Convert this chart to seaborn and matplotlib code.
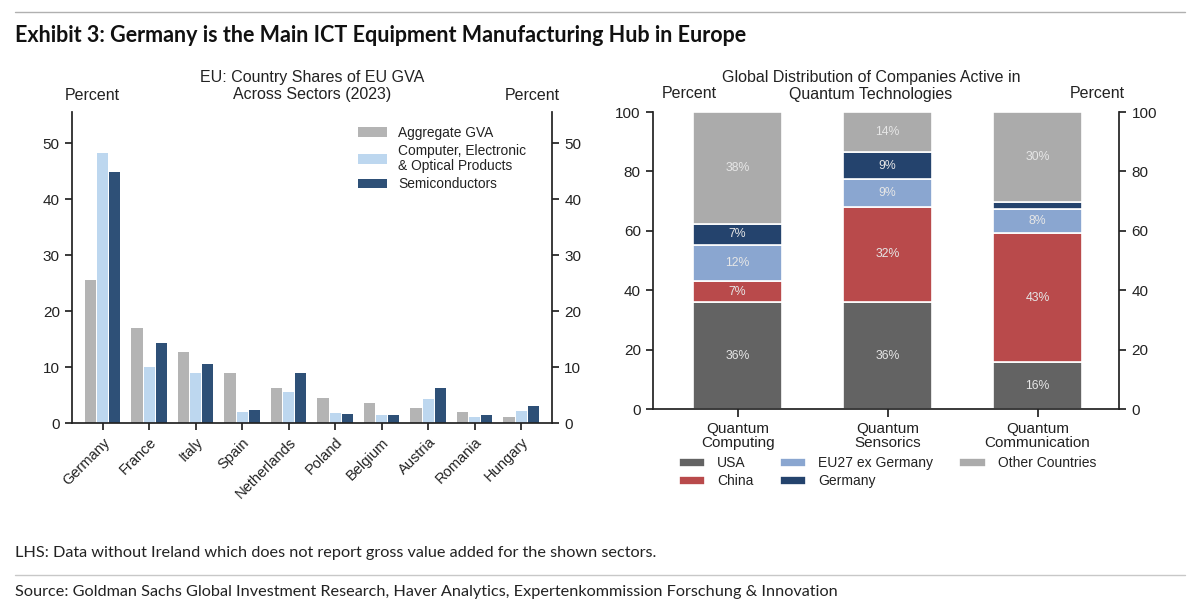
import matplotlib

matplotlib.use("Agg")

import matplotlib.pyplot as plt
from matplotlib.lines import Line2D
import numpy as np
import pandas as pd
import seaborn as sns

# left panel: country shares of EU GVA, percent
COUNTRIES = ["Germany", "France", "Italy", "Spain", "Netherlands",
             "Poland", "Belgium", "Austria", "Romania", "Hungary"]
SECTORS = ["Aggregate GVA", "Computer, Electronic\n& Optical Products", "Semiconductors"]
AGGREGATE_GVA = [25.6, 17.0, 12.8, 9.0, 6.3, 4.5, 3.6, 2.8, 2.0, 1.1]
COMPUTER_ELEC = [48.2, 10.1, 9.0, 2.0, 5.5, 1.8, 1.4, 4.4, 1.1, 2.2]
SEMICONDUCTORS = [44.8, 14.3, 10.6, 2.4, 9.0, 1.6, 1.4, 6.3, 1.5, 3.1]

# right panel: distribution of quantum companies, percent
TECHS = ["Quantum\nComputing", "Quantum\nSensorics", "Quantum\nCommunication"]
REGIONS = ["USA", "China", "EU27 ex Germany", "Germany", "Other Countries"]
USA = [36.1, 36.1, 16.0]
CHINA = [7.0, 32.1, 43.2]
EU27_EX_DE = [12.3, 9.2, 8.2]
GERMANY = [6.9, 9.1, 2.2]
OTHER = [37.7, 13.5, 30.4]

SECTOR_COLORS = ["#b4b4b4", "#bdd7ef", "#2e5077"]
REGION_COLORS = ["#636363", "#b94a4b", "#8aa6d0", "#24436d", "#ababab"]
TEXT = "#222222"

sns.set_theme(style="ticks")
plt.rcParams["font.family"] = ["Liberation Sans", "DejaVu Sans"]
plt.rcParams["axes.edgecolor"] = TEXT
plt.rcParams["xtick.color"] = TEXT
plt.rcParams["ytick.color"] = TEXT

W, H = 1200, 614
fig = plt.figure(figsize=(W / 100, H / 100), dpi=100)


def px_axes(x0, y0, x1, y1):
    return fig.add_axes([x0 / W, 1 - y1 / H, (x1 - x0) / W, (y1 - y0) / H])


# ---- left panel
gva = pd.DataFrame({"country": COUNTRIES, SECTORS[0]: AGGREGATE_GVA,
                    SECTORS[1]: COMPUTER_ELEC, SECTORS[2]: SEMICONDUCTORS})
gva_long = gva.melt(id_vars="country", var_name="sector", value_name="share")

ax1 = px_axes(72.3, 111.7, 551.7, 423.3)
sns.barplot(data=gva_long, x="country", y="share", hue="sector", hue_order=SECTORS,
            order=COUNTRIES, palette=SECTOR_COLORS, saturation=1, width=0.78,
            gap=0.06, linewidth=0, ax=ax1)
ax1.set_xlim(-0.654, 9.656)
ax1.set_ylim(0, 55.6)
ax1.set_yticks(np.arange(0, 51, 10))
ax1.set_xlabel("")
ax1.set_ylabel("")
ax1.spines["top"].set_visible(False)
ax1.tick_params(axis="y", right=True, labelright=True, labelsize=11, length=5, pad=4)
ax1.tick_params(axis="x", labelsize=10.5, length=5)
for lab in ax1.get_xticklabels():
    lab.set_rotation(45)
    lab.set_ha("right")
    lab.set_rotation_mode("anchor")
leg1 = ax1.legend(loc="upper left", bbox_to_anchor=(0.570, 0.995), frameon=False,
                  fontsize=9.9, handlelength=2.1, handleheight=0.7,
                  labelspacing=0.35, handletextpad=0.85)
for t in leg1.get_texts():
    t.set_color(TEXT)
    t.set_linespacing(1.02)

fig.text(92 / W, 1 - 95 / H, "Percent", ha="center", va="center", fontsize=11.5, color=TEXT)
fig.text(532 / W, 1 - 95 / H, "Percent", ha="center", va="center", fontsize=11.5, color=TEXT)
fig.text(312 / W, 1 - 86 / H, "EU: Country Shares of EU GVA\nAcross Sectors (2023)",
         ha="center", va="center", fontsize=11.5, color=TEXT, linespacing=1.15)

# ---- right panel
ax2 = px_axes(653.3, 112, 1119, 409.3)
stack = [USA, CHINA, EU27_EX_DE, GERMANY, OTHER]
bottom = np.zeros(len(TECHS))
for region, values, color in zip(REGIONS, stack, REGION_COLORS):
    seg = pd.DataFrame({"tech": TECHS, "share": values})
    sns.barplot(data=seg, x="tech", y="share", order=TECHS, color=color, saturation=1,
                width=0.59, bottom=bottom, edgecolor="white", linewidth=1.2,
                label=region, ax=ax2)
    for i, v in enumerate(values):
        if v >= 5:
            ax2.text(i, bottom[i] + v / 2, f"{v:.0f}%", ha="center", va="center",
                     fontsize=8.8, color="#e6e6e6")
    bottom = bottom + np.array(values)

ax2.set_xlim(-0.563, 2.543)
ax2.set_ylim(0, 100)
ax2.set_yticks(np.arange(0, 101, 20))
ax2.set_xlabel("")
ax2.set_ylabel("")
ax2.spines["top"].set_visible(False)
ax2.tick_params(axis="y", right=True, labelright=True, labelsize=11, length=5, pad=4)
ax2.tick_params(axis="x", labelsize=11, length=6)
for lab in ax2.get_xticklabels():
    lab.set_linespacing(0.95)
leg2 = ax2.legend(loc="upper left", bbox_to_anchor=(0.028, -0.115), ncol=3, frameon=False,
                  fontsize=10, handlelength=1.9, handleheight=0.6, labelspacing=0.3,
                  columnspacing=1.9, handletextpad=0.85)
for t in leg2.get_texts():
    t.set_color(TEXT)

fig.text(689 / W, 1 - 94 / H, "Percent", ha="center", va="center", fontsize=11.5, color=TEXT)
fig.text(1097 / W, 1 - 94 / H, "Percent", ha="center", va="center", fontsize=11.5, color=TEXT)
fig.text(871 / W, 1 - 86 / H, "Global Distribution of Companies Active in\nQuantum Technologies",
         ha="center", va="center", fontsize=11.5, color=TEXT, linespacing=1.15)

# ---- frame texts and rules
fig.add_artist(Line2D([15 / W, 1185 / W], [1 - 12 / H, 1 - 12 / H], color="#b0b0b0", lw=1))
fig.add_artist(Line2D([15 / W, 1185 / W], [1 - 575 / H, 1 - 575 / H], color="#c8c8c8", lw=1))
fig.text(15 / W, 1 - 36 / H, "Exhibit 3: Germany is the Main ICT Equipment Manufacturing Hub in Europe",
         ha="left", va="center", fontsize=15.5, fontweight="bold", color="#111111",
         family=["Lato", "DejaVu Sans"])
fig.text(15 / W, 1 - 553 / H, "LHS: Data without Ireland which does not report gross value added for the shown sectors.",
         ha="left", va="center", fontsize=11.7, color=TEXT, family=["Lato", "DejaVu Sans"])
fig.text(15 / W, 1 - 592 / H, "Source: Goldman Sachs Global Investment Research, Haver Analytics, Expertenkommission Forschung & Innovation",
         ha="left", va="center", fontsize=11.7, color=TEXT, family=["Lato", "DejaVu Sans"])

fig.savefig("out.png", dpi=100, facecolor="white")
